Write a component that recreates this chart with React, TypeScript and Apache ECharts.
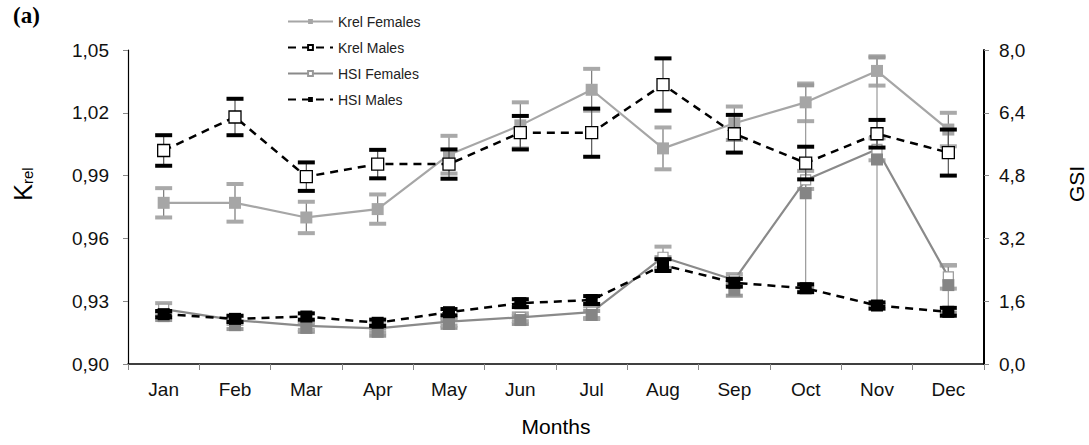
import React, { useEffect, useRef } from "react";
import * as echarts from "echarts";

const months = ["Jan", "Feb", "Mar", "Apr", "May", "Jun", "Jul", "Aug", "Sep", "Oct", "Nov", "Dec"];

const krelFemales = [0.977, 0.977, 0.970, 0.974, 1.000, 1.014, 1.031, 1.003, 1.015, 1.025, 1.040, 1.012];
const krelFemalesErr = [0.007, 0.009, 0.0075, 0.007, 0.009, 0.011, 0.010, 0.010, 0.008, 0.009, 0.007, 0.008];

const krelMales = [1.002, 1.018, 0.9895, 0.9955, 0.9955, 1.0105, 1.0105, 1.0335, 1.010, 0.996, 1.010, 1.001];
const krelMalesErr = [0.0073, 0.0087, 0.0068, 0.0068, 0.007, 0.008, 0.0115, 0.0125, 0.009, 0.0078, 0.0066, 0.011];

const hsiFemales = [1.40, 1.12, 0.97, 0.91, 1.08, 1.19, 1.32, 2.72, 2.14, 4.69, 5.47, 2.22];
const hsiFemalesErr = [0.15, 0.1, 0.1, 0.1, 0.1, 0.1, 0.15, 0.27, 0.15, 0.23, 0.28, 0.3];

const gsiFemales = [1.22, 0.99, 0.92, 0.82, 1.02, 1.12, 1.25, 2.57, 1.89, 4.35, 5.21, 2.01];
const gsiFemalesErrMinus = [0.1, 0.1, 0.1, 0.1, 0.1, 0.1, 0.1, 0.15, 0.15, 2.4, 3.7, 0.7];
const gsiFemalesErrPlus = [0.1, 0.1, 0.1, 0.1, 0.1, 0.1, 0.1, 0.15, 0.15, 2.75, 2.6, 0.5];

const hsiMales = [1.27, 1.15, 1.21, 1.05, 1.32, 1.55, 1.63, 2.52, 2.07, 1.93, 1.49, 1.33];
const hsiMalesErr = [0.08, 0.08, 0.08, 0.08, 0.08, 0.1, 0.1, 0.15, 0.1, 0.1, 0.08, 0.1];

const leftTicks = { min: 0.9, max: 1.05, interval: 0.03 };
const rightTicks = { min: 0, max: 8, interval: 1.6 };

const FONT = "Liberation Sans, Arial, sans-serif";

function errData(vals: number[], minus: number[], plus: number[]) {
  return vals.map((v, i) => [i, v - minus[i], v + plus[i]]);
}

function errSeries(
  name: string,
  data: number[][],
  yAxisIndex: number,
  capColor: string,
  stemColor: string,
  z: number,
  capW = 17,
  capH = 4
) {
  return {
    type: "custom",
    name,
    yAxisIndex,
    z,
    silent: true,
    encode: { x: 0, y: [1, 2] },
    data,
    renderItem: (params: any, api: any) => {
      const x = api.value(0);
      const lo = api.coord([x, api.value(1)]);
      const hi = api.coord([x, api.value(2)]);
      return {
        type: "group",
        children: [
          {
            type: "line",
            shape: { x1: lo[0], y1: lo[1], x2: hi[0], y2: hi[1] },
            style: { stroke: stemColor, lineWidth: 1.2 },
          },
          {
            type: "rect",
            shape: { x: hi[0] - capW / 2, y: hi[1] - capH / 2, width: capW, height: capH },
            style: { fill: capColor },
          },
          {
            type: "rect",
            shape: { x: lo[0] - capW / 2, y: lo[1] - capH / 2, width: capW, height: capH },
            style: { fill: capColor },
          },
        ],
      };
    },
  };
}

export default function App() {
  const ref = useRef<HTMLDivElement>(null);
  useEffect(() => {
    if (!ref.current) return;
    const chart = echarts.init(ref.current, null, { renderer: "svg" });
    const option: any = {
      animation: false,
      backgroundColor: "#fff",
      textStyle: { fontFamily: FONT },
      grid: { left: 128, right: 105, top: 50, bottom: 81, containLabel: false },
      legend: {
        data: ["Krel Females", "Krel Males", "HSI Females", "HSI Males"],
        orient: "vertical",
        left: 282,
        top: 8,
        itemGap: 9,
        itemWidth: 45,
        itemHeight: 6,
        textStyle: { fontSize: 14, color: "#222", fontFamily: FONT, lineHeight: 17 },
      },
      xAxis: {
        type: "category",
        data: months,
        boundaryGap: true,
        axisLine: { lineStyle: { color: "#000", width: 1.5 } },
        axisTick: { show: true, interval: 0, length: 6, lineStyle: { color: "#888" } },
        axisLabel: { fontSize: 19, color: "#111", margin: 16, fontFamily: FONT, interval: 0 },
        splitLine: { show: false },
      },
      yAxis: [
        {
          type: "value",
          min: leftTicks.min,
          max: leftTicks.max,
          interval: leftTicks.interval,
          axisLine: { show: true, lineStyle: { color: "#000", width: 1.2 } },
          axisTick: { show: true, length: 5, lineStyle: { color: "#888" } },
          axisLabel: {
            fontSize: 19,
            color: "#111",
            margin: 19,
            fontFamily: FONT,
            formatter: (v: number) => v.toFixed(2).replace(".", ","),
          },
          splitLine: { show: false },
        },
        {
          type: "value",
          min: rightTicks.min,
          max: rightTicks.max,
          interval: rightTicks.interval,
          position: "right",
          axisLine: { show: true, lineStyle: { color: "#000", width: 2 } },
          axisTick: { show: true, length: 5, lineStyle: { color: "#888" } },
          axisLabel: {
            fontSize: 19,
            color: "#111",
            margin: 15,
            fontFamily: FONT,
            formatter: (v: number) => v.toFixed(1).replace(".", ","),
          },
          splitLine: { show: false },
        },
      ],
      graphic: [
        {
          type: "text",
          x: 13,
          y: 4,
          style: {
            text: "(a)",
            fontSize: 23,
            fontWeight: "bold",
            fontFamily: "Liberation Serif",
            fill: "#000",
          },
        },
        {
          type: "text",
          x: 21,
          y: 184,
          rotation: Math.PI / 2,
          style: {
            text: "{k|K}{s|rel}",
            align: "center",
            verticalAlign: "middle",
            fill: "#000",
            rich: {
              k: { fontSize: 25, fontFamily: FONT, lineHeight: 28, verticalAlign: "bottom" },
              s: { fontSize: 15, fontFamily: FONT, lineHeight: 15, verticalAlign: "bottom" },
            },
          },
        },
        {
          type: "text",
          x: 1076,
          y: 184,
          rotation: Math.PI / 2,
          style: { text: "GSI", fontSize: 21, fontFamily: FONT, fill: "#000", align: "center", verticalAlign: "middle" },
        },
        {
          type: "text",
          x: 556,
          y: 426,
          style: { text: "Months", fontSize: 21, fontFamily: FONT, fill: "#000", align: "center", verticalAlign: "middle" },
        },
      ],
      series: [
        errSeries("errKF", errData(krelFemales, krelFemalesErr, krelFemalesErr), 0, "#a9a9a9", "#777", 2),
        errSeries("errGF", errData(gsiFemales, gsiFemalesErrMinus, gsiFemalesErrPlus), 1, "#999", "#999", 2),
        errSeries("errHF", errData(hsiFemales, hsiFemalesErr, hsiFemalesErr), 1, "#a9a9a9", "#888", 2),
        {
          type: "line",
          name: "Krel Females",
          yAxisIndex: 0,
          z: 3,
          data: krelFemales,
          symbol: "rect",
          symbolSize: 12,
          itemStyle: { color: "#a6a6a6" },
          lineStyle: { color: "#a6a6a6", width: 2.2, type: "solid" },
        },
        {
          type: "line",
          name: "HSI Females",
          yAxisIndex: 1,
          z: 3,
          data: hsiFemales,
          symbol: "rect",
          symbolSize: 10,
          itemStyle: { color: "#fff", borderColor: "#999", borderWidth: 1.2 },
          lineStyle: { color: "#8a8a8a", width: 2.2, type: "solid" },
        },
        {
          type: "line",
          name: "GSI Females",
          yAxisIndex: 1,
          z: 3,
          data: gsiFemales,
          symbol: "rect",
          symbolSize: 12,
          itemStyle: { color: "#858585" },
          lineStyle: { width: 0, opacity: 0 },
        },
        errSeries("errKM", errData(krelMales, krelMalesErr, krelMalesErr), 0, "#000", "#555", 4),
        errSeries("errHM", errData(hsiMales, hsiMalesErr, hsiMalesErr), 1, "#000", "#333", 4),
        {
          type: "line",
          name: "Krel Males",
          yAxisIndex: 0,
          z: 5,
          data: krelMales,
          symbol: "rect",
          symbolSize: 12,
          itemStyle: { color: "#fff", borderColor: "#000", borderWidth: 1.3 },
          lineStyle: { color: "#000", width: 2.5, type: [8, 6] },
        },
        {
          type: "line",
          name: "HSI Males",
          yAxisIndex: 1,
          z: 5,
          data: hsiMales,
          symbol: "rect",
          symbolSize: 12,
          itemStyle: { color: "#000" },
          lineStyle: { color: "#000", width: 2.5, type: [8, 6] },
        },
      ],
    };
    chart.setOption(option);
    return () => chart.dispose();
  }, []);
  return <div ref={ref} style={{ width: 1089, height: 445, position: "absolute", left: 0, top: 0 }} />;
}
